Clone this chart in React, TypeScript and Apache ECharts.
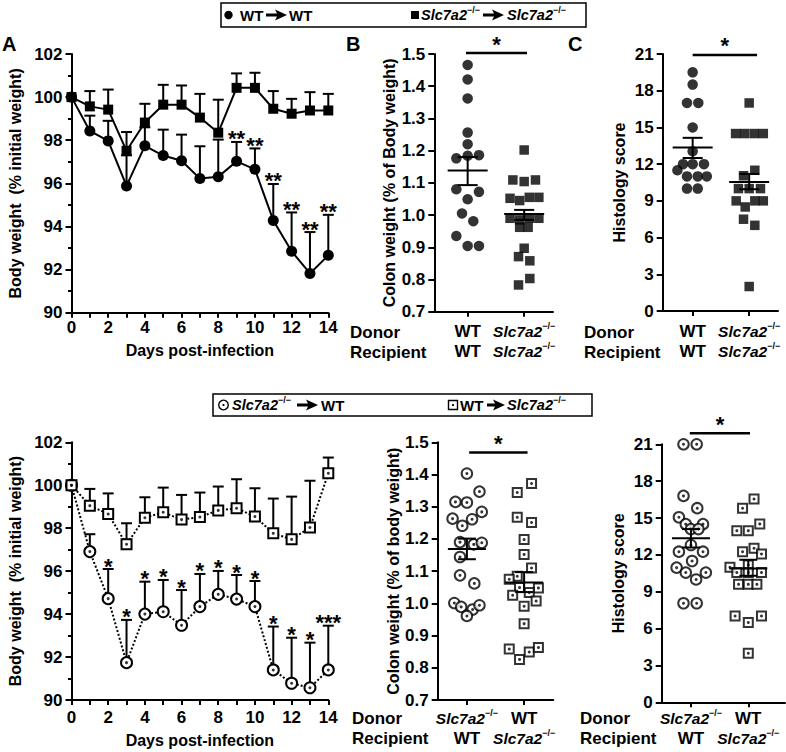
import React, { useEffect, useRef } from 'react';
import * as echarts from 'echarts';

const FONT = '"Liberation Sans", Arial, Helvetica, sans-serif';
const GENE = 'Slc7a2';
const KO = '\u2212/\u2212';

// ---------- Body weight time courses ----------
const days = [0, 1, 2, 3, 4, 5, 6, 7, 8, 9, 10, 11, 12, 13, 14];
const dayTickLabels = ['0', '', '2', '', '4', '', '6', '', '8', '', '10', '', '12', '', '14'];

// Panel A: WT -> WT (filled circles)
const aWtMean = [100, 98.43, 97.97, 95.88, 97.74, 97.29, 97.05, 96.22, 96.31, 97.02, 96.65, 94.28, 92.85, 91.82, 92.66];
const aWtTop = [100, 99.14, 98.9, 97.3, 98.6, 98.49, 98.26, 97.72, 98.03, 97.92, 97.62, 95.97, 94.65, 93.74, 94.54];
const aStars = ['', '', '', '', '', '', '', '', '', '**', '**', '**', '**', '**', '**'];
// Panel A: Slc7a2-/- -> Slc7a2-/- (filled squares)
const aKoMean = [100, 99.57, 99.42, 97.51, 98.82, 99.65, 99.65, 99.05, 98.35, 100.43, 100.43, 99.46, 99.23, 99.38, 99.38];
const aKoTop = [100, 100.28, 100.35, 98.38, 99.69, 100.57, 100.54, 100.15, 99.88, 101.1, 101.13, 100.28, 99.92, 100.23, 100.15];

// Panel D: Slc7a2-/- -> WT (open circles)
const dKoWtMean = [100, 96.91, 94.72, 91.74, 94.0, 94.11, 93.48, 94.35, 94.92, 94.7, 94.35, 91.4, 90.78, 90.57, 91.4];
const dKoWtTop = [100, 97.72, 96.1, 93.73, 95.51, 95.59, 95.12, 95.87, 96.01, 95.82, 95.54, 93.42, 92.9, 92.67, 93.46];
const dStars = ['', '', '*', '*', '*', '*', '*', '*', '*', '*', '*', '*', '*', '*', '***'];
// Panel D: WT -> Slc7a2-/- (open squares)
const dWtKoMean = [100, 99.05, 98.66, 97.25, 98.49, 98.74, 98.4, 98.52, 98.83, 98.93, 98.54, 97.76, 97.48, 98.03, 100.56];
const dWtKoTop = [100, 99.83, 99.62, 98.23, 99.44, 99.89, 99.55, 99.66, 99.94, 100.28, 99.86, 99.38, 99.47, 100.21, 101.29];

// ---------- Panel B: colon weight ----------
const bWtVals = [1.466, 1.421, 1.362, 1.256, 1.22, 1.176, 1.184, 1.186, 1.08, 1.072, 1.049, 1.005, 0.981, 0.935, 0.904, 0.904];
const bWtJit = [0, 0, 0, 0, 0, -0.2, 0, 0.2, -0.2, 0.2, 0, -0.1, 0.1, -0.2, 0, 0.2];
const bKoVals = [1.202, 1.109, 1.104, 1.109, 1.052, 1.045, 1.055, 1.055, 0.99, 0.985, 0.99, 0.99, 0.962, 0.962, 0.897, 0.871, 0.858, 0.803, 0.783];
const bKoJit = [0, -0.2, 0, 0.2, -0.25, -0.08, 0.09, 0.26, -0.25, -0.08, 0.09, 0.26, -0.08, 0.07, 0, -0.1, 0.1, 0.1, -0.1];
const bMean = [1.138, 1.003];
const bLow = [1.093, 0.985];
const bHigh = [1.18, 1.016];

// ---------- Panel C: histology ----------
const cWtVals = [19.5, 18.5, 17, 17, 15, 13.05, 12, 12, 12, 11.5, 11, 11, 11, 10, 10];
const cWtJit = [0, 0, -0.1, 0.1, 0, 0, -0.17, 0, 0.2, -0.27, -0.1, 0.09, 0.25, -0.1, 0.09];
const cKoVals = [17, 14.5, 14.5, 14.5, 14.5, 11.5, 11.05, 10, 10, 10, 9, 9, 9, 8.5, 7.5, 7, 2];
const cKoJit = [0, -0.24, -0.08, 0.09, 0.25, 0.1, -0.1, -0.19, 0, 0.2, -0.23, 0.1, 0.25, -0.07, -0.1, 0.1, 0];
const cMean = [13.35, 10.55];
const cLow = [12.5, 9.95];
const cHigh = [14.15, 11.2];

// ---------- Panel E: colon weight (chimeras) ----------
const eKoWtVals = [1.403, 1.347, 1.315, 1.313, 1.284, 1.263, 1.261, 1.241, 1.19, 1.183, 1.188, 1.144, 1.087, 1.062, 1.001, 0.989, 0.981, 0.994, 0.961];
const eKoWtJit = [0, 0.22, -0.2, 0, 0.26, -0.25, 0.09, -0.08, -0.12, 0.12, 0.26, -0.12, -0.12, 0.13, -0.22, -0.1, 0.1, 0.22, 0];
const eWtKoVals = [1.372, 1.344, 1.267, 1.251, 1.198, 1.152, 1.11, 1.084, 1.075, 1.049, 1.048, 1.034, 1.025, 1.007, 0.991, 0.937, 0.858, 0.826, 0.849, 0.863];
const eWtKoJit = [0.13, -0.12, -0.12, 0.13, 0, 0, 0.13, -0.12, -0.26, -0.08, 0.25, 0.09, -0.2, 0.21, 0, 0, -0.26, -0.08, 0.09, 0.25];
const eMean = [1.169, 1.065];
const eLow = [1.137, 1.035];
const eHigh = [1.201, 1.097];

// ---------- Panel F: histology (chimeras) ----------
const fKoWtVals = [21, 21, 16.8, 15.8, 15.06, 14.5, 14.5, 14.1, 14.1, 12.8, 12.26, 12.26, 11.5, 10.96, 10.56, 10.56, 10.0, 8.06, 8.06];
const fKoWtJit = [-0.13, 0.1, -0.13, 0.11, -0.21, -0.09, 0.21, 0, 0.13, 0, -0.21, 0.21, 0.02, -0.25, -0.09, 0.26, 0.09, -0.13, 0.1];
const fWtKoVals = [16.55, 15.8, 14.52, 13.97, 13.97, 12.54, 12.26, 12.07, 11.18, 10.99, 10.56, 10.56, 10.56, 9.6, 9.6, 9.6, 7.03, 6.49, 7.03, 3.99];
const fWtKoJit = [0.1, -0.1, 0.2, -0.2, 0, 0.1, -0.1, 0.23, 0, -0.32, -0.2, 0, 0.23, -0.17, 0, 0.15, -0.23, 0, 0.23, 0];
const fMean = [13.35, 10.9];
const fLow = [12.6, 10.3];
const fHigh = [14.1, 11.6];

// significance bars: [xStart, xEnd, y]
const sigB = [0.97, 2.05, 1.503];
const sigC = [1.0, 2.14, 20.92];
const sigE = [1.04, 2.06, 1.468];
const sigF = [0.98, 2.03, 21.9];

// group labels (donor / recipient)
const groups = [1, 2];
const topDonor = ['WT', GENE];
const topRecipient = ['WT', GENE];
const botDonor = [GENE, 'WT'];
const botRecipient = ['WT', GENE];

const BLACK = '#000';

function rich(size: number, geneSize: number) {
  return {
    i: { fontStyle: 'italic', fontWeight: 'bold', fontSize: geneSize, fontFamily: FONT, color: BLACK, fill: BLACK, lineHeight: 20 },
    b: { fontWeight: 'bold', fontSize: size, fontFamily: FONT, color: BLACK, fill: BLACK, lineHeight: 20 },
    s: { fontWeight: 'bold', fontSize: Math.round(geneSize * 0.6), fontFamily: FONT, color: BLACK, fill: BLACK, verticalAlign: 'top', lineHeight: 11 },
    L: { fontWeight: 'bold', fontSize: 20, fontFamily: FONT, color: BLACK, fill: BLACK },
  };
}

function tok(label: string) {
  return label === 'WT' ? '{b|WT}' : `{i|${GENE}}{s|${KO}}`;
}

function errSeries(idx: number, means: number[], tops: number[]) {
  return {
    type: 'custom', xAxisIndex: idx, yAxisIndex: idx, z: 1, silent: true,
    data: days.map((d, i) => [d, means[i], tops[i]]),
    encode: { x: 0, y: [1, 2] },
    renderItem: (params: any, api: any) => {
      const x = api.value(0), m = api.value(1), t = api.value(2);
      if (t - m < 0.01) return { type: 'group', children: [] };
      const p0 = api.coord([x, m]);
      const p1 = api.coord([x, t]);
      return {
        type: 'group', children: [
          { type: 'line', shape: { x1: p0[0], y1: p0[1], x2: p1[0], y2: p1[1] }, style: { stroke: BLACK, lineWidth: 2 } },
          { type: 'line', shape: { x1: p1[0] - 5.5, y1: p1[1], x2: p1[0] + 5.5, y2: p1[1] }, style: { stroke: BLACK, lineWidth: 2 } },
        ],
      };
    },
  };
}

function starSeries(idx: number, tops: number[], stars: string[]) {
  return {
    type: 'custom', xAxisIndex: idx, yAxisIndex: idx, z: 6, silent: true,
    data: days.map((d, i) => [d, tops[i]]),
    renderItem: (params: any, api: any) => {
      const s = stars[params.dataIndex];
      if (!s) return { type: 'group', children: [] };
      const p = api.coord([api.value(0), api.value(1)]);
      return {
        type: 'text', x: p[0], y: p[1] - 3,
        style: { text: s, fontSize: 22, fontWeight: 'bold', fontFamily: FONT, fill: BLACK, align: 'center', verticalAlign: 'middle' },
      };
    },
  };
}

function meanSeries(idx: number, means: number[], lows: number[], highs: number[], half: number, cap: number) {
  return {
    type: 'custom', xAxisIndex: idx, yAxisIndex: idx, z: 7, silent: true,
    data: groups.map((g, i) => [g, means[i], lows[i], highs[i]]),
    encode: { x: 0, y: [1, 2, 3] },
    renderItem: (params: any, api: any) => {
      const g = api.value(0);
      const pm = api.coord([g, api.value(1)]);
      const pl = api.coord([g, api.value(2)]);
      const ph = api.coord([g, api.value(3)]);
      const st = { stroke: BLACK, lineWidth: 2 };
      return {
        type: 'group', children: [
          { type: 'line', shape: { x1: pm[0] - half, y1: pm[1], x2: pm[0] + half, y2: pm[1] }, style: st },
          { type: 'line', shape: { x1: pl[0], y1: pl[1], x2: ph[0], y2: ph[1] }, style: st },
          { type: 'line', shape: { x1: pl[0] - cap, y1: pl[1], x2: pl[0] + cap, y2: pl[1] }, style: st },
          { type: 'line', shape: { x1: ph[0] - cap, y1: ph[1], x2: ph[0] + cap, y2: ph[1] }, style: st },
        ],
      };
    },
  };
}

function sigSeries(idx: number, sig: number[]) {
  return {
    type: 'custom', xAxisIndex: idx, yAxisIndex: idx, z: 7, silent: true,
    data: [sig],
    encode: { x: [0, 1], y: 2 },
    renderItem: (params: any, api: any) => {
      const p0 = api.coord([api.value(0), api.value(2)]);
      const p1 = api.coord([api.value(1), api.value(2)]);
      return {
        type: 'group', children: [
          { type: 'line', shape: { x1: p0[0], y1: p0[1], x2: p1[0], y2: p1[1] }, style: { stroke: BLACK, lineWidth: 2.5 } },
          {
            type: 'text', x: (p0[0] + p1[0]) / 2, y: p0[1] - 9,
            style: { text: '*', fontSize: 22, fontWeight: 'bold', fontFamily: FONT, fill: BLACK, align: 'center', verticalAlign: 'middle' },
          },
        ],
      };
    },
  };
}

// Category (donor / recipient) labels under the group axes, placed at x = 1, 2
function catLabelSeries(idx: number, yMin: number, donor: string[], recipient: string[], offset: number) {
  return {
    type: 'custom', xAxisIndex: idx, yAxisIndex: idx, z: 5, silent: true,
    data: groups.map((g) => [g, yMin]),
    renderItem: (params: any, api: any) => {
      const i = params.dataIndex;
      const p = api.coord([api.value(0), api.value(1)]);
      return {
        type: 'text', x: p[0], y: p[1] + offset,
        style: {
          text: `${tok(donor[i])}\n${tok(recipient[i])}`, rich: rich(17, 15.5),
          fontFamily: FONT, fontWeight: 'bold', fill: BLACK, align: 'center', verticalAlign: 'top',
        },
      };
    },
  };
}

function dotScatter(idx: number, vals: number[], jit: number[], group: number, symbol: string, size: number, open: boolean) {
  const data = vals.map((v, i) => [group + jit[i], v]);
  const main: any = {
    type: 'scatter', xAxisIndex: idx, yAxisIndex: idx, z: 3, silent: true, clip: false,
    data, symbol, symbolSize: size,
    itemStyle: open ? { color: '#fff', borderColor: BLACK, borderWidth: 2 } : { color: BLACK },
  };
  if (!open) return [main];
  return [main, {
    type: 'scatter', xAxisIndex: idx, yAxisIndex: idx, z: 4, silent: true, clip: false,
    data, symbol: 'circle', symbolSize: 3, itemStyle: { color: BLACK },
  }];
}

const axisLineStyle = { lineStyle: { color: BLACK, width: 2 } };
const labelBase = { color: BLACK, fontSize: 17, fontWeight: 'bold', fontFamily: FONT };
const nameStyle = { color: BLACK, fontSize: 16, fontWeight: 'bold', fontFamily: FONT };

function timeXAxis(idx: number, margin: number, nameGap: number) {
  return {
    type: 'value', gridIndex: idx, min: 0, max: 14, interval: 1,
    axisLine: axisLineStyle, splitLine: { show: false },
    axisTick: { length: 5, lineStyle: { color: BLACK, width: 2 } },
    axisLabel: { ...labelBase, margin, formatter: (v: number) => dayTickLabels[days.indexOf(v)] ?? '' },
    name: 'Days post-infection', nameLocation: 'middle', nameGap, nameTextStyle: nameStyle,
  };
}

function weightYAxis(idx: number) {
  return {
    type: 'value', gridIndex: idx, min: 90, max: 102, interval: 2,
    axisLine: { show: true, ...axisLineStyle }, splitLine: { show: false },
    axisTick: { show: true, length: 6, lineStyle: { color: BLACK, width: 2 } },
    minorTick: { show: true, splitNumber: 2, length: 3.5, lineStyle: { color: BLACK, width: 2 } },
    axisLabel: { ...labelBase, margin: 9 },
    name: 'Body weight  (% initial weight)', nameLocation: 'middle', nameGap: 48, nameTextStyle: nameStyle,
  };
}

function groupXAxis(idx: number, min: number, max: number) {
  return {
    type: 'value', gridIndex: idx, min, max,
    axisLine: axisLineStyle, splitLine: { show: false },
    axisTick: { show: true, customValues: groups, length: 5, lineStyle: { color: BLACK, width: 2 } },
    axisLabel: { show: false },
  };
}

function groupYAxis(idx: number, min: number, max: number, interval: number, name: string, nameGap: number, digits: number) {
  return {
    type: 'value', gridIndex: idx, min, max, interval,
    axisLine: { show: true, ...axisLineStyle }, splitLine: { show: false },
    axisTick: { show: true, length: 6, lineStyle: { color: BLACK, width: 2 } },
    axisLabel: { ...labelBase, margin: 9, formatter: (v: number) => v.toFixed(digits) },
    name, nameLocation: 'middle', nameGap, nameTextStyle: nameStyle,
  };
}

function arrow(x0: number, x1: number, y: number) {
  return {
    type: 'polygon',
    shape: { points: [[x0, y - 1.6], [x1 - 10, y - 1.6], [x1 - 12, y - 5.5], [x1, y], [x1 - 12, y + 5.5], [x1 - 10, y + 1.6], [x0, y + 1.6]] },
    style: { fill: BLACK },
  };
}

function txt(x: number, y: number, text: string, size = 17, geneSize = 15) {
  return {
    type: 'text', x, y,
    style: { text, fontSize: size, fontWeight: 'bold', fontFamily: FONT, fill: BLACK, align: 'left', verticalAlign: 'middle', rich: rich(size, geneSize) },
  };
}

export default function App() {
  const ref = useRef<HTMLDivElement>(null);
  useEffect(() => {
    if (!ref.current) return;
    const chart = echarts.init(ref.current, null, { renderer: 'svg' });
    const grids = [
      { left: 71.5, top: 54, width: 256.8, height: 258.7 },
      { left: 434.3, top: 54, width: 118.7, height: 257.7 },
      { left: 662.7, top: 54, width: 115.3, height: 257 },
      { left: 71.5, top: 442.3, width: 256.8, height: 257.7 },
      { left: 437.7, top: 442.3, width: 115.6, height: 257.7 },
      { left: 661.7, top: 444.3, width: 123.3, height: 258 },
    ];
    const option: any = {
      animation: false,
      textStyle: { fontFamily: FONT, fontWeight: 'bold', color: BLACK },
      grid: grids.map((g) => ({ ...g, containLabel: false })),
      xAxis: [
        timeXAxis(0, 6, 30),
        groupXAxis(1, 0.41, 2.51),
        groupXAxis(2, 0.47, 2.51),
        timeXAxis(3, 9, 32),
        groupXAxis(4, 0.49, 2.51),
        groupXAxis(5, 0.49, 2.64),
      ],
      yAxis: [
        weightYAxis(0),
        groupYAxis(1, 0.7, 1.5, 0.1, 'Colon weight (% of Body weight)', 34, 1),
        groupYAxis(2, 0, 21, 3, 'Histology score', 35, 0),
        weightYAxis(3),
        groupYAxis(4, 0.7, 1.5, 0.1, 'Colon weight (% of body weight)', 36, 1),
        groupYAxis(5, 0, 21, 3, 'Histology score', 35, 0),
      ],
      series: [
        // Panel A
        errSeries(0, aWtMean, aWtTop),
        errSeries(0, aKoMean, aKoTop),
        {
          type: 'line', xAxisIndex: 0, yAxisIndex: 0, z: 3, clip: false, silent: true,
          data: days.map((d, i) => [d, aWtMean[i]]), symbol: 'circle', symbolSize: 11,
          lineStyle: { color: BLACK, width: 2 }, itemStyle: { color: BLACK },
        },
        {
          type: 'line', xAxisIndex: 0, yAxisIndex: 0, z: 4, clip: false, silent: true,
          data: days.map((d, i) => [d, aKoMean[i]]), symbol: 'rect', symbolSize: 10,
          lineStyle: { color: BLACK, width: 2 }, itemStyle: { color: BLACK },
        },
        starSeries(0, aWtTop, aStars),
        // Panel D
        errSeries(3, dKoWtMean, dKoWtTop),
        errSeries(3, dWtKoMean, dWtKoTop),
        {
          type: 'line', xAxisIndex: 3, yAxisIndex: 3, z: 3, clip: false, silent: true,
          data: days.map((d, i) => [d, dKoWtMean[i]]), symbol: 'circle', symbolSize: 11,
          lineStyle: { color: BLACK, width: 2, type: 'dotted' },
          itemStyle: { color: '#fff', borderColor: BLACK, borderWidth: 2 },
        },
        {
          type: 'line', xAxisIndex: 3, yAxisIndex: 3, z: 3, clip: false, silent: true,
          data: days.map((d, i) => [d, dWtKoMean[i]]), symbol: 'rect', symbolSize: 10,
          lineStyle: { color: BLACK, width: 2, type: 'dotted' },
          itemStyle: { color: '#fff', borderColor: BLACK, borderWidth: 2 },
        },
        {
          type: 'scatter', xAxisIndex: 3, yAxisIndex: 3, z: 5, silent: true, clip: false,
          data: days.map((d, i) => [d, dKoWtMean[i]]).concat(days.map((d, i) => [d, dWtKoMean[i]])),
          symbol: 'circle', symbolSize: 3, itemStyle: { color: BLACK },
        },
        starSeries(3, dKoWtTop, dStars),
        // Panel B
        ...dotScatter(1, bWtVals, bWtJit, 1, 'circle', 10.5, false),
        ...dotScatter(1, bKoVals, bKoJit, 2, 'rect', 9.5, false),
        meanSeries(1, bMean, bLow, bHigh, 20, 10),
        sigSeries(1, sigB),
        catLabelSeries(1, 0.7, topDonor, topRecipient, 10),
        // Panel C
        ...dotScatter(2, cWtVals, cWtJit, 1, 'circle', 10.5, false),
        ...dotScatter(2, cKoVals, cKoJit, 2, 'rect', 9.5, false),
        meanSeries(2, cMean, cLow, cHigh, 20, 10),
        sigSeries(2, sigC),
        catLabelSeries(2, 0, topDonor, topRecipient, 10.5),
        // Panel E
        ...dotScatter(4, eKoWtVals, eKoWtJit, 1, 'circle', 10.5, true),
        ...dotScatter(4, eWtKoVals, eWtKoJit, 2, 'rect', 9, true),
        meanSeries(4, eMean, eLow, eHigh, 19, 9),
        sigSeries(4, sigE),
        catLabelSeries(4, 0.7, botDonor, botRecipient, 8.5),
        // Panel F
        ...dotScatter(5, fKoWtVals, fKoWtJit, 1, 'circle', 10.5, true),
        ...dotScatter(5, fWtKoVals, fWtKoJit, 2, 'rect', 9, true),
        meanSeries(5, fMean, fLow, fHigh, 19, 9),
        sigSeries(5, sigF),
        catLabelSeries(5, 0, botDonor, botRecipient, 6.5),
      ],
      graphic: [
        // top legend
        { type: 'rect', shape: { x: 221, y: 3, width: 365, height: 24 }, style: { fill: '#fff', stroke: BLACK, lineWidth: 1.5 } },
        { type: 'circle', shape: { cx: 228.5, cy: 15, r: 4.2 }, style: { fill: BLACK } },
        txt(240, 15, '{b|WT}', 15, 14.5),
        arrow(266, 287, 15),
        txt(289, 15, '{b|WT}', 15, 14.5),
        { type: 'rect', shape: { x: 411, y: 11, width: 8, height: 8 }, style: { fill: BLACK } },
        txt(421, 15, tok(GENE), 15, 14.5),
        arrow(483, 504, 15),
        txt(507, 15, tok(GENE), 15, 14.5),
        // bottom legend
        { type: 'rect', shape: { x: 213, y: 394, width: 379, height: 22 }, style: { fill: '#fff', stroke: BLACK, lineWidth: 1.5 } },
        { type: 'circle', shape: { cx: 223.5, cy: 405, r: 4.8 }, style: { fill: '#fff', stroke: BLACK, lineWidth: 1.4 } },
        { type: 'circle', shape: { cx: 223.5, cy: 405, r: 1.1 }, style: { fill: BLACK } },
        txt(232, 405, tok(GENE), 15, 14.5),
        arrow(297, 318, 405),
        txt(321, 405, '{b|WT}', 15, 14.5),
        { type: 'rect', shape: { x: 448.5, y: 400.5, width: 9, height: 9 }, style: { fill: '#fff', stroke: BLACK, lineWidth: 1.4 } },
        { type: 'circle', shape: { cx: 453, cy: 405, r: 1.1 }, style: { fill: BLACK } },
        txt(460, 405, '{b|WT}', 15, 14.5),
        arrow(487, 505, 405),
        txt(507, 405, tok(GENE), 15, 14.5),
        // panel letters
        txt(2, 44, '{L|A}', 20),
        txt(346, 44, '{L|B}', 20),
        txt(568, 44, '{L|C}', 20),
        // donor / recipient labels
        txt(350, 332, '{b|Donor}', 17),
        txt(350, 352, '{b|Recipient}', 17),
        txt(584, 332, '{b|Donor}', 17),
        txt(584, 352, '{b|Recipient}', 17),
        txt(352, 718.5, '{b|Donor}', 17),
        txt(352, 738.5, '{b|Recipient}', 17),
        txt(580, 718.5, '{b|Donor}', 17),
        txt(580, 738.5, '{b|Recipient}', 17),
      ],
    };
    chart.setOption(option);
    return () => chart.dispose();
  }, []);
  return <div ref={ref} style={{ position: 'absolute', left: 0, top: 0, width: 786, height: 752, background: '#fff' }} />;
}
